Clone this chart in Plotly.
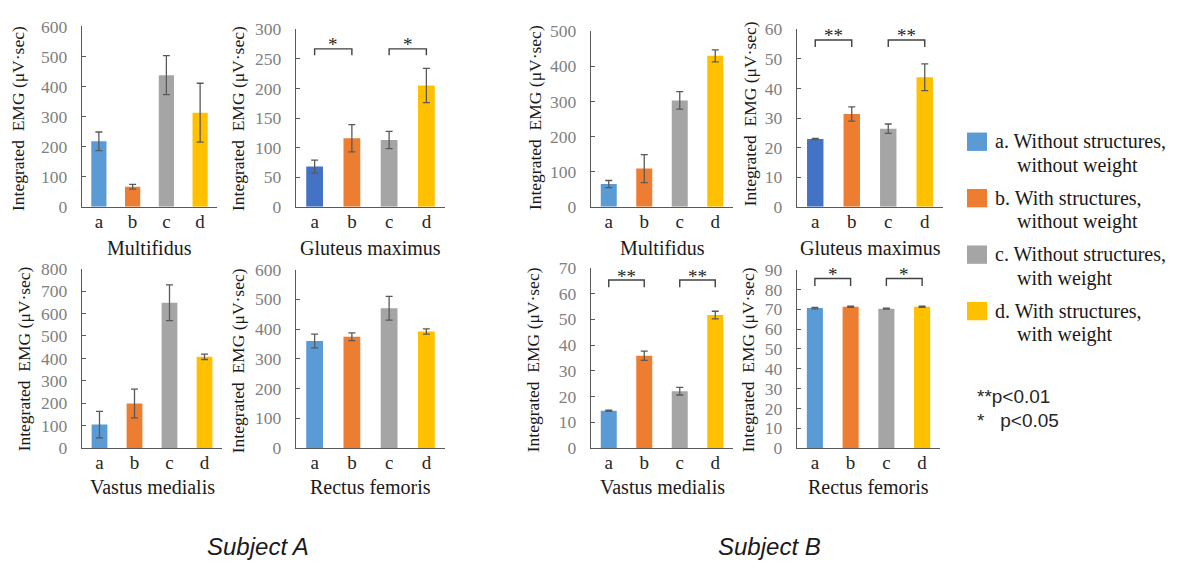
import plotly.graph_objects as go

W, H = 1178, 572

categories = ["a", "b", "c", "d"]
legend_line1 = ["a. Without structures,", "b. With structures,", "c. Without structures,", "d. With structures,"]
legend_line2 = ["without weight", "without weight", "with weight", "with weight"]
subjects = ["Subject A", "Subject B"]
muscles = ["Multifidus", "Gluteus maximus", "Vastus medialis", "Rectus femoris"]
y_title = "Integrated  EMG (\u03bcV\u00b7sec)"
p_notes = ["**p<0.01", "*  p<0.05"]

# Subject A
A_multifidus = [218, 67, 438, 313]
A_multifidus_err = [31, 8, 65, 98]
A_gluteus = [68, 116, 113, 205]
A_gluteus_err = [11, 23, 14.5, 29]
A_vastus = [105, 199, 648, 407]
A_vastus_err = [59, 64, 80, 12]
A_rectus = [360, 374, 470, 392]
A_rectus_err = [23, 13, 40, 9]
# Subject B
B_multifidus = [65, 109, 303, 430]
B_multifidus_err = [10, 40, 25, 17]
B_gluteus = [22.9, 31.4, 26.4, 43.8]
B_gluteus_err = [0.2, 2.4, 1.6, 4.5]
B_vastus = [14.5, 35.8, 22.1, 51.6]
B_vastus_err = [0.2, 1.8, 1.5, 1.5]
B_rectus = [70.6, 71.3, 70.3, 71.3]
B_rectus_err = [0.4, 0.3, 0.2, 0.3]

# axis maxima and tick steps
y_max = [600, 300, 800, 600, 500, 60, 70, 90]
y_step = [100, 50, 100, 100, 100, 10, 10, 10]

# significance brackets: label, bracket top, bracket foot
sig_pairs = [("a", "b"), ("c", "d")]
A_gluteus_sig = ["*", 267, 256]
B_gluteus_sig = ["**", 56.4, 54]
B_vastus_sig = ["**", 65.2, 62.4]
B_rectus_sig = ["*", 85.5, 81.7]

# ---------------- styling ----------------
palette = ["#5B9BD5", "#ED7D31", "#A5A5A5", "#FFC000"]
palette_dark = ["#4472C4", "#ED7D31", "#A5A5A5", "#FFC000"]
SERIF = "Liberation Serif"
SANS = "Liberation Sans"
AXC = "#595959"

panels = [
    (A_multifidus, A_multifidus_err, muscles[0], None, palette),
    (A_gluteus, A_gluteus_err, muscles[1], A_gluteus_sig, palette_dark),
    (A_vastus, A_vastus_err, muscles[2], None, palette),
    (A_rectus, A_rectus_err, muscles[3], None, palette),
    (B_multifidus, B_multifidus_err, muscles[0], None, palette),
    (B_gluteus, B_gluteus_err, muscles[1], B_gluteus_sig, palette_dark),
    (B_vastus, B_vastus_err, muscles[2], B_vastus_sig, palette),
    (B_rectus, B_rectus_err, muscles[3], B_rectus_sig, palette),
]
# plot areas in pixels: x0, x1, ytop, ybottom
boxes = [
    (82, 217, 17, 204), (296, 445, 20, 204),
    (82, 222, 268, 454), (296, 445, 269, 454),
    (591, 733, 22, 204), (797, 943, 20, 204),
    (591, 733, 267, 454), (797, 940, 269, 454),
]
ytitle_pos = [(18, 113), (238, 113), (24, 362), (238, 364),
              (535, 112), (750, 108), (533, 363), (748, 363)]
xtitle_y = [247, 247, 494, 494, 247, 247, 494, 494]


def px(x):
    return x / W


def py(y):
    return 1 - y / H


fig = go.Figure()
layout = dict(width=W, height=H, margin=dict(l=0, r=0, t=0, b=0),
              paper_bgcolor="white", plot_bgcolor="white", showlegend=False,
              bargap=0.55)
annotations = []
shapes = []

for i, (vals, errs, title, sig, cols) in enumerate(panels):
    n = i + 1
    xa = "x" if n == 1 else f"x{n}"
    ya = "y" if n == 1 else f"y{n}"
    x0, x1, yt, yb = boxes[i]
    fig.add_trace(go.Bar(
        x=categories, y=vals, marker=dict(color=cols, line=dict(width=0)),
        error_y=dict(type="data", array=errs, color=AXC, thickness=1.3, width=3.5),
        xaxis=xa, yaxis=ya))
    layout[f"xaxis{'' if n == 1 else n}"] = dict(
        domain=[px(x0), px(x1)], anchor=ya, type="category",
        showline=True, linecolor=AXC, linewidth=1.3, ticks="", showgrid=False,
        tickfont=dict(family=SERIF, size=19, color="#262626"),
        ticklabelstandoff=-3, fixedrange=True)
    layout[f"yaxis{'' if n == 1 else n}"] = dict(
        domain=[py(yb), py(yt)], anchor=xa, range=[0, y_max[i]],
        dtick=y_step[i], tick0=0, showline=True, linecolor=AXC, linewidth=1.3,
        ticks="inside", ticklen=4, tickcolor=AXC, showgrid=False, zeroline=False,
        tickfont=dict(family=SERIF, size=17.5, color="#808080"),
        ticklabelstandoff=10, fixedrange=True)
    annotations.append(dict(x=px((x0 + x1) / 2), y=py(xtitle_y[i]), xref="paper", yref="paper",
                            text=title, showarrow=False, xanchor="center", yanchor="middle",
                            font=dict(family=SERIF, size=20, color="#1a1a1a")))
    tx, ty = ytitle_pos[i]
    annotations.append(dict(x=px(tx), y=py(ty), xref="paper", yref="paper",
                            text=y_title, textangle=-90, showarrow=False,
                            xanchor="center", yanchor="middle",
                            font=dict(family=SERIF, size=17.5, color="#1a1a1a")))
    if sig is not None:
        label, top, foot = sig
        for (c0, c1) in sig_pairs:
            fig.add_trace(go.Scatter(x=[c0, c0, c1, c1], y=[foot, top, top, foot], mode="lines",
                                     line=dict(color="#404040", width=1.4),
                                     xaxis=xa, yaxis=ya, hoverinfo="skip"))
            mid = (categories.index(c0) + categories.index(c1)) / 2
            annotations.append(dict(x=mid, y=top, xref=xa, yref=ya, text=label,
                                    showarrow=False, xanchor="center", yanchor="middle",
                                    yshift=4, font=dict(family=SERIF, size=19, color="#262626")))

# subject labels
for k, s in enumerate(subjects):
    cx = [258, 770][k]
    annotations.append(dict(x=px(cx), y=py(556), xref="paper", yref="paper", text=f"<i>{s}</i>",
                            showarrow=False, xanchor="center", yanchor="middle",
                            font=dict(family=SANS, size=24, color="#1a1a1a")))

# legend
leg_y1 = [136, 194.5, 253, 311.5]
for k in range(4):
    yc = leg_y1[k]
    shapes.append(dict(type="rect", xref="paper", yref="paper",
                       x0=px(967), x1=px(987), y0=py(yc + 10), y1=py(yc - 9),
                       fillcolor=palette[k], line=dict(width=0)))
    annotations.append(dict(x=px(993), y=py(yc), xref="paper", yref="paper",
                            text=legend_line1[k], showarrow=False, xanchor="left", yanchor="middle",
                            font=dict(family=SERIF, size=20, color="#1a1a1a")))
    annotations.append(dict(x=px(1015), y=py(yc + 25), xref="paper", yref="paper",
                            text=legend_line2[k], showarrow=False, xanchor="left", yanchor="middle",
                            font=dict(family=SERIF, size=20, color="#1a1a1a")))
for k, t in enumerate(p_notes):
    annotations.append(dict(x=px(975), y=py([400, 425][k]), xref="paper", yref="paper",
                            text=t.replace("  ", "&nbsp;&nbsp;&nbsp;"), showarrow=False,
                            xanchor="left", yanchor="middle",
                            font=dict(family=SANS, size=19, color="#262626")))

layout["annotations"] = annotations
layout["shapes"] = shapes
fig.update_layout(**layout)
fig.write_html("out.html", config={"displayModeBar": False},
               post_script="document.body.style.margin='0';")
